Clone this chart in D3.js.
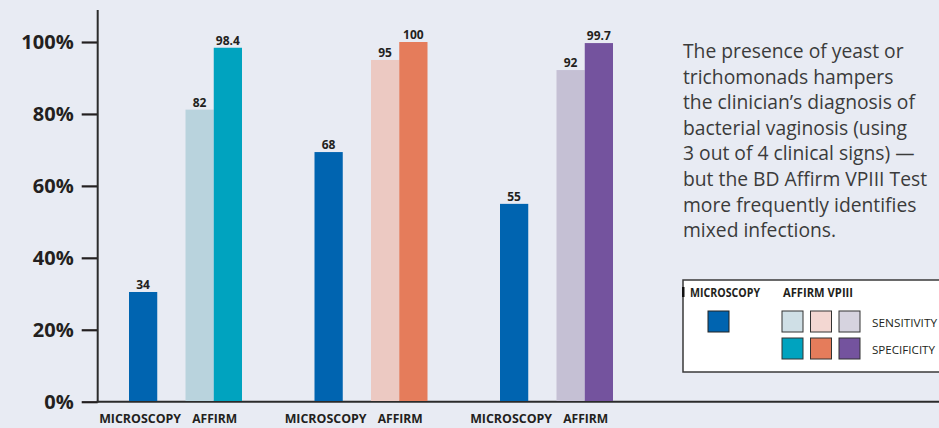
<!DOCTYPE html>
<html>
<head>
<meta charset="utf-8">
<script src="https://cdn.jsdelivr.net/npm/d3@7"></script>
<style>
  html, body { margin: 0; padding: 0; background: #e8ebf3; }
  svg { display: block; }
</style>
</head>
<body>
<svg id="chart" width="939" height="428"></svg>
<script>
// ---- data ----
const groups = ["G1", "G2", "G3"];
const categoryLabels = ["MICROSCOPY", "AFFIRM"];
const yTicks = [0, 20, 40, 60, 80, 100];
// printed value labels
const microscopyLabels = ["34", "68", "55"];
const sensitivityLabels = ["82", "95", "92"];
const specificityLabels = ["98.4", "100", "99.7"];
// bar heights (%) as drawn in the source figure
const microscopyValues = [30.5, 69.4, 55];
const sensitivityValues = [81.2, 95, 92.2];
const specificityValues = [98.4, 100, 99.7];
// colours
const microscopyColor = "#0064b0";
const sensitivityColors = ["#b9d3dd", "#ecc9c2", "#c5c0d4"];
const specificityColors = ["#00a3bf", "#e57c5b", "#74539e"];
const legendSensColors = ["#cfdfe6", "#f3d7d2", "#d6d3df"];
const noteLines = [
  "The presence of yeast or",
  "trichomonads hampers",
  "the clinician\u2019s diagnosis of",
  "bacterial vaginosis (using",
  "3 out of 4 clinical signs) \u2014",
  "but the BD Affirm VPIII Test",
  "more frequently identifies",
  "mixed infections."
];

// ---- drawing ----
const svg = d3.select("#chart");
const ink = "#231f20";
const y = d3.scaleLinear().domain([0, 100]).range([401.7, 42]);
const xGroup = d3.scaleBand().domain(groups).range([129, 129 + 3 * 185.5]).paddingInner(0);
const xSub = d3.scaleBand().domain(["micro", "gap", "sens", "spec"]).range([0, 113]);

svg.append("rect").attr("width", 939).attr("height", 428).attr("fill", "#e8ebf3");

// y axis
const yAxis = d3.axisLeft(y).tickValues(yTicks).tickSize(16).tickPadding(8)
  .tickFormat(d => d + "%");
const gy = svg.append("g").attr("transform", "translate(97.7,0)").call(yAxis);
gy.select(".domain").remove();
gy.selectAll(".tick line").attr("stroke", ink).attr("stroke-width", 2.2);
gy.selectAll(".tick text")
  .attr("fill", ink)
  .style("font-family", "'Open Sans', sans-serif")
  .style("font-weight", "700")
  .style("font-size", "20px");
svg.append("line").attr("x1", 97.7).attr("x2", 97.7).attr("y1", 10).attr("y2", 402.5)
  .attr("stroke", "#2b2b2b").attr("stroke-width", 2);
svg.append("line").attr("x1", 96.7).attr("x2", 939).attr("y1", 401.7).attr("y2", 401.7)
  .attr("stroke", "#2b2b2b").attr("stroke-width", 2);

// bars
const bw = xSub.bandwidth();
function drawBars(values, labels, key, colorFn) {
  const g = svg.append("g");
  g.selectAll("rect").data(values).join("rect")
    .attr("x", (d, i) => xGroup(groups[i]) + xSub(key))
    .attr("y", d => y(d))
    .attr("width", bw)
    .attr("height", d => y(0) - y(d) - 0.7)
    .attr("fill", (d, i) => colorFn(i));
  g.selectAll("text").data(values).join("text")
    .attr("x", (d, i) => xGroup(groups[i]) + xSub(key) + bw / 2)
    .attr("y", d => y(d) - 3)
    .attr("text-anchor", "middle")
    .attr("fill", ink)
    .style("font-family", "'Open Sans', sans-serif")
    .style("font-weight", "700")
    .style("font-size", "12px")
    .text((d, i) => labels[i]);
}
drawBars(microscopyValues, microscopyLabels, "micro", () => microscopyColor);
drawBars(sensitivityValues, sensitivityLabels, "sens", i => sensitivityColors[i]);
drawBars(specificityValues, specificityLabels, "spec", i => specificityColors[i]);

// category labels
const catG = svg.append("g")
  .style("font-family", "'Open Sans', sans-serif")
  .style("font-weight", "700")
  .style("font-size", "12.3px")
  .attr("fill", ink);
groups.forEach(gk => {
  catG.append("text")
    .attr("x", xGroup(gk) + xSub("micro") + bw / 2 - 3)
    .attr("y", 423)
    .attr("text-anchor", "middle")
    .attr("textLength", 82).attr("lengthAdjust", "spacingAndGlyphs")
    .text(categoryLabels[0]);
  catG.append("text")
    .attr("x", xGroup(gk) + xSub("sens") + bw + 1)
    .attr("y", 423)
    .attr("text-anchor", "middle")
    .attr("textLength", 45).attr("lengthAdjust", "spacingAndGlyphs")
    .text(categoryLabels[1]);
});

// annotation
const note = svg.append("text")
  .attr("fill", "#3b3b3b")
  .style("font-family", "'Open Sans', sans-serif")
  .style("font-size", "19.3px");
noteLines.forEach((t, i) => {
  note.append("tspan").attr("x", 683).attr("y", 58 + i * 25.6).text(t);
});

// legend
const lg = svg.append("g");
lg.append("rect").attr("x", 683).attr("y", 280).attr("width", 270).attr("height", 92)
  .attr("fill", "#ffffff").attr("stroke", "#3a3a3a").attr("stroke-width", 1.5);
lg.append("rect").attr("x", 682).attr("y", 287).attr("width", 2.5).attr("height", 10).attr("fill", "#111");
const lgText = (x, yy, t, w, weight, size, len) => lg.append("text")
  .attr("x", x).attr("y", yy).attr("fill", ink)
  .style("font-family", "'Open Sans', sans-serif")
  .style("font-weight", weight).style("font-size", size)
  .attr("textLength", len).attr("lengthAdjust", "spacingAndGlyphs")
  .text(t);
lgText(690, 297, "MICROSCOPY", null, "700", "11.5px", 70);
lgText(783, 297, "AFFIRM VPIII", null, "700", "11.5px", 70);
lgText(872, 327, "SENSITIVITY", null, "400", "11.5px", 65);
lgText(872, 354, "SPECIFICITY", null, "400", "11.5px", 63);
lg.append("rect").attr("x", 708).attr("y", 311).attr("width", 21).attr("height", 21)
  .attr("fill", microscopyColor).attr("stroke", "#222").attr("stroke-width", 1);
const swX = d3.scaleBand().domain([0, 1, 2]).range([782, 782 + 3 * 28.5]);
lg.selectAll(".sens").data(legendSensColors).join("rect").attr("class", "sens")
  .attr("x", (d, i) => swX(i)).attr("y", 311).attr("width", 21).attr("height", 21)
  .attr("fill", d => d).attr("stroke", "#333").attr("stroke-width", 1);
lg.selectAll(".spec").data(specificityColors).join("rect").attr("class", "spec")
  .attr("x", (d, i) => swX(i)).attr("y", 338).attr("width", 21).attr("height", 21)
  .attr("fill", d => d).attr("stroke", "#333").attr("stroke-width", 1);
</script>
</body>
</html>
